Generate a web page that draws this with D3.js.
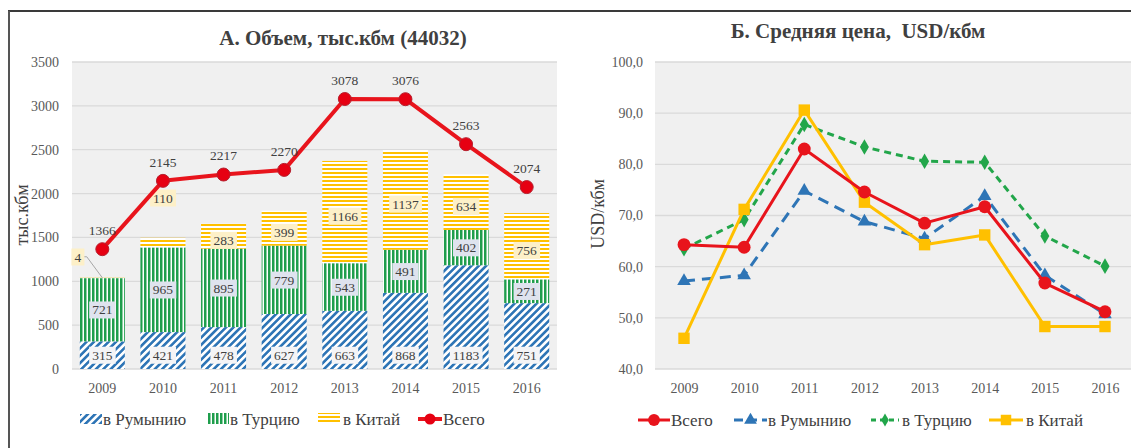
<!DOCTYPE html>
<html><head><meta charset="utf-8">
<script src="https://cdn.jsdelivr.net/npm/d3@7"></script>
<style>
body{margin:0;background:#fff;}
svg, svg text{font-family:"Liberation Serif","DejaVu Serif","Noto Serif",serif !important;}
</style></head>
<body><svg id="c" width="1131" height="448"></svg>
<script>
// ---- data ----
const years = ["2009","2010","2011","2012","2013","2014","2015","2016"];
const volRomania = [315,421,478,627,663,868,1183,751];
const volTurkey  = [721,965,895,779,543,491,402,271];
const volChina   = [4,110,283,399,1166,1137,634,756];
const volTotal   = [1366,2145,2217,2270,3078,3076,2563,2074];
const volTicks   = [0,500,1000,1500,2000,2500,3000,3500];

const priceTotal   = [64.3,63.8,83.0,74.6,68.5,71.7,56.8,51.2];
const priceRomania = [57.2,58.3,74.8,68.8,65.5,73.8,58.3,50.7];
const priceTurkey  = [63.5,69.2,87.8,83.4,80.6,80.4,66.0,60.1];
const priceChina   = [46.0,71.2,90.6,72.6,64.3,66.2,48.3,48.3];
const priceTicks   = [40,50,60,70,80,90,100];

const titleA = "А. Объем, тыс.кбм (44032)";
const titleB = "Б. Средняя цена,  USD/кбм";
const legendA = ["в Румынию","в Турцию","в Китай","Всего"];
const legendB = ["Всего","в Румынию","в Турцию","в Китай"];

// ---- styles ----
const FONT = "'Liberation Serif','DejaVu Serif','Noto Serif',serif";
const C = {red:"#e8141c", blue:"#2e75b6", green:"#1f9e4c", yellow:"#ffc000",
           grid:"#dadada", bg:"#f0f0f0", tick:"#595959", text:"#404040"};

const svg = d3.select("#c").attr("font-family",FONT);
const defs = svg.append("defs");
// patterns
const pR = defs.append("pattern").attr("id","pR").attr("patternUnits","userSpaceOnUse")
  .attr("width",5.2).attr("height",10).attr("patternTransform","rotate(45)");
pR.append("rect").attr("width",5.2).attr("height",10).attr("fill","#fff");
pR.append("rect").attr("width",2.6).attr("height",10).attr("fill",C.blue);
const pT = defs.append("pattern").attr("id","pT").attr("patternUnits","userSpaceOnUse")
  .attr("width",4).attr("height",10);
pT.append("rect").attr("width",4).attr("height",10).attr("fill","#fff");
pT.append("rect").attr("width",2.5).attr("height",10).attr("fill",C.green);
const pC = defs.append("pattern").attr("id","pC").attr("patternUnits","userSpaceOnUse")
  .attr("width",10).attr("height",4);
pC.append("rect").attr("width",10).attr("height",4).attr("fill","#fff");
pC.append("rect").attr("width",10).attr("height",2).attr("fill",C.yellow);

// frame
svg.append("line").attr("x1",8).attr("x2",1131).attr("y1",11).attr("y2",11).attr("stroke","#3a3a3a").attr("stroke-width",2);
svg.append("line").attr("x1",9).attr("x2",9).attr("y1",11).attr("y2",448).attr("stroke","#555").attr("stroke-width",2);

function styleAxis(ax){
  ax.attr("font-family",FONT).attr("font-size",14);
  ax.select(".domain").remove();
  ax.selectAll("text").attr("fill",C.tick).attr("font-family",FONT).style("font-size","14px");
}

// ================= Chart A =================
const xA = d3.scaleBand().domain(years).range([72,557]).paddingInner(0.257).paddingOuter(0.1285);
const yA = d3.scaleLinear().domain([0,3500]).range([369,62]);
const gA = svg.append("g");
gA.append("rect").attr("x",72).attr("y",62).attr("width",485).attr("height",307).attr("fill",C.bg);
gA.append("g").selectAll("line").data(volTicks).join("line")
  .attr("x1",72).attr("x2",557).attr("y1",d=>yA(d)).attr("y2",d=>yA(d))
  .attr("stroke",C.grid).attr("stroke-width",1.3);
const axA = gA.append("g").attr("transform","translate(59,0)")
  .call(d3.axisLeft(yA).tickValues(volTicks).tickSize(0).tickPadding(0).tickFormat(d3.format("d")));
styleAxis(axA);
const axAx = gA.append("g").attr("transform","translate(0,383)")
  .call(d3.axisBottom(xA).tickSize(0).tickPadding(0));
styleAxis(axAx);
axAx.selectAll("text").attr("dy","0.71em");

gA.append("text").attr("x",343).attr("y",45).attr("text-anchor","middle")
  .attr("fill",C.text).style("font-size","21px").style("font-weight","bold").text(titleA);
gA.append("text").attr("transform","translate(28,215) rotate(-90)").attr("text-anchor","middle")
  .attr("fill",C.text).style("font-size","18px").text("тыс.кбм");

// stacked bars
const stackRows = years.map((y,i)=>({year:y, ro:volRomania[i], tr:volTurkey[i], cn:volChina[i]}));
const series = d3.stack().keys(["ro","tr","cn"])(stackRows);
const fills = {ro:"url(#pR)", tr:"url(#pT)", cn:"url(#pC)"};
series.forEach(s=>{
  gA.append("g").selectAll("rect").data(s).join("rect")
    .attr("x",d=>xA(d.data.year)).attr("width",xA.bandwidth())
    .attr("y",d=>yA(d[1])).attr("height",d=>yA(d[0])-yA(d[1]))
    .attr("fill",fills[s.key]);
});

function label(g, x, y, txt, bg){
  const t = g.append("text").attr("x",x).attr("y",y).attr("text-anchor","middle")
    .attr("dy","0.35em").attr("fill",C.text).style("font-size","13.5px").text(txt);
  const b = t.node().getBBox();
  g.insert("rect", () => t.node()).attr("x",b.x-3).attr("y",b.y-1).attr("width",b.width+6)
    .attr("height",b.height+2).attr("fill",bg);
}
const gl = gA.append("g");
series[0].forEach(d=>label(gl, xA(d.data.year)+xA.bandwidth()/2, yA(0)-14, d.data.ro, "#f4f4f6"));
series[1].forEach(d=>label(gl, xA(d.data.year)+xA.bandwidth()/2, (yA(d[0])+yA(d[1]))/2, d.data.tr, "#dfe3ee"));
series[2].forEach((d,i)=>{
  const cx = xA(d.data.year)+xA.bandwidth()/2;
  let cy = (yA(d[0])+yA(d[1]))/2;
  if (d.data.cn < 50) {
    const lx = xA(d.data.year)-2, ly = yA(d[1])-21;
    gl.append("polyline").attr("points",`${lx+6},${ly} ${lx+9},${ly} ${cx},${yA(d[1])}`)
      .attr("fill","none").attr("stroke","#a6a6a6").attr("stroke-width",1);
    label(gl, lx, ly, d.data.cn, "#fdf0c8");
    return;
  } else if (d.data.cn < 150) {
    cy = yA(d[1]) - 40;
  } else cy += 4;
  label(gl, cx, cy, d.data.cn, "#fdf0c8");
});

// total line
const lineA = d3.line().x((d,i)=>xA(years[i])+xA.bandwidth()/2).y(d=>yA(d));
gA.append("path").datum(volTotal).attr("d",lineA).attr("fill","none").attr("stroke",C.red).attr("stroke-width",4).attr("stroke-linejoin","round");
gA.append("g").selectAll("circle").data(volTotal).join("circle")
  .attr("cx",(d,i)=>xA(years[i])+xA.bandwidth()/2).attr("cy",d=>yA(d)).attr("r",6.5)
  .attr("fill","#e60012").attr("stroke","#b5202e").attr("stroke-width",1);
gA.append("g").selectAll("text").data(volTotal).join("text")
  .attr("x",(d,i)=>xA(years[i])+xA.bandwidth()/2).attr("y",d=>yA(d)-19).attr("dy","0.35em")
  .attr("text-anchor","middle").attr("fill",C.text).style("font-size","13.5px").text(d=>d);

// legend A
const lgA = gA.append("g");
const lgAx = [80,207,318,418];
const lgAtx = [103,230,343,443];
lgAx.forEach((x,i)=>{
  if(i<3){
    lgA.append("rect").attr("x",x).attr("y",i===0?414:413).attr("width",22).attr("height",i===0?10:11)
      .attr("fill",["url(#pR)","url(#pT)","url(#pC)"][i]);
  } else {
    lgA.append("line").attr("x1",x).attr("x2",x+24).attr("y1",419).attr("y2",419).attr("stroke",C.red).attr("stroke-width",4);
    lgA.append("circle").attr("cx",x+12).attr("cy",419).attr("r",5.5).attr("fill","#e60012");
  }
  lgA.append("text").attr("x",lgAtx[i]).attr("y",419).attr("dy","0.35em").attr("fill",C.text)
    .style("font-size","17px").text(legendA[i]);
});

// ================= Chart B =================
const xB = d3.scalePoint().domain(years).range([684,1105]);
const yB = d3.scaleLinear().domain([40,100]).range([369,62]);
const gB = svg.append("g");
gB.append("rect").attr("x",655).attr("y",62).attr("width",480).attr("height",307).attr("fill",C.bg);
gB.append("g").selectAll("line").data(priceTicks).join("line")
  .attr("x1",655).attr("x2",1135).attr("y1",d=>yB(d)).attr("y2",d=>yB(d))
  .attr("stroke",C.grid).attr("stroke-width",1.3);
const axB = gB.append("g").attr("transform","translate(643,0)")
  .call(d3.axisLeft(yB).tickValues(priceTicks).tickSize(0).tickPadding(0)
    .tickFormat(d=>d3.format(".1f")(d).replace(".",",")));
styleAxis(axB);
const axBx = gB.append("g").attr("transform","translate(0,383)")
  .call(d3.axisBottom(xB).tickSize(0).tickPadding(0));
styleAxis(axBx);
axBx.selectAll("text").attr("dy","0.71em");

gB.append("text").attr("x",858).attr("y",38).attr("text-anchor","middle").attr("xml:space","preserve")
  .style("white-space","pre")
  .attr("fill",C.text).style("font-size","21px").style("font-weight","bold").text(titleB);
gB.append("text").attr("transform","translate(604,214) rotate(-90)").attr("text-anchor","middle")
  .attr("fill",C.text).style("font-size","18px").text("USD/кбм");

const lineB = d3.line().x((d,i)=>xB(years[i])).y(d=>yB(d));
const seriesB = [
  {vals:priceTurkey, color:"#22a64a", dash:"7,5", sym:d3.symbolDiamond, size:70, w:3},
  {vals:priceRomania, color:C.blue, dash:"11,7", sym:d3.symbolTriangle, size:80, w:3},
  {vals:priceChina, color:C.yellow, dash:null, sym:d3.symbolSquare, size:130, w:3},
  {vals:priceTotal, color:C.red, dash:null, sym:d3.symbolCircle, size:130, w:3},
];
seriesB.forEach(s=>{
  gB.append("path").datum(s.vals).attr("d",lineB).attr("fill","none").attr("stroke",s.color)
    .attr("stroke-width",s.w).attr("stroke-dasharray",s.dash).attr("stroke-linejoin","round");
  gB.append("g").selectAll("path").data(s.vals).join("path")
    .attr("transform",(d,i)=>`translate(${xB(years[i])},${yB(d)})`)
    .attr("d",d3.symbol().type(s.sym).size(s.size)).attr("fill",s.color);
});

// legend B
const lgB = gB.append("g");
const lgBdefs = [
  {x:638, w:32, color:C.red, dash:null, sym:d3.symbolCircle, size:110, tx:671},
  {x:734, w:33, color:C.blue, dash:"9,5", sym:d3.symbolTriangle, size:70, tx:768},
  {x:871, w:28, color:"#22a64a", dash:"5,4", sym:d3.symbolDiamond, size:50, tx:902},
  {x:989, w:34, color:C.yellow, dash:null, sym:d3.symbolSquare, size:110, tx:1026},
];
lgBdefs.forEach((s,i)=>{
  lgB.append("line").attr("x1",s.x).attr("x2",s.x+s.w).attr("y1",420).attr("y2",420)
    .attr("stroke",s.color).attr("stroke-width",3).attr("stroke-dasharray",s.dash);
  lgB.append("path").attr("transform",`translate(${s.x+s.w/2},420)`)
    .attr("d",d3.symbol().type(s.sym).size(s.size)).attr("fill",s.color);
  lgB.append("text").attr("x",s.tx).attr("y",420).attr("dy","0.35em").attr("fill",C.text)
    .style("font-size","17px").text(legendB[i]);
});
</script></body></html>
